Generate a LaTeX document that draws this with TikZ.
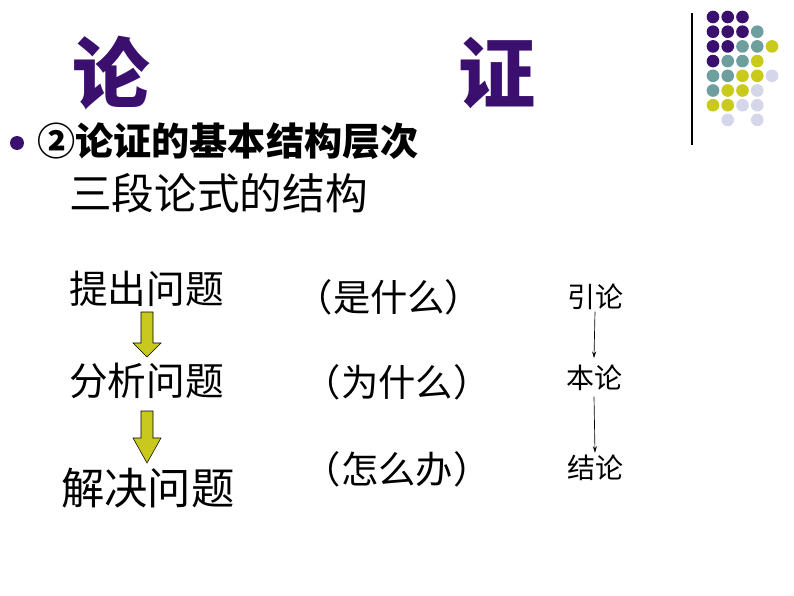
\documentclass[tikz,border=0pt]{standalone}
\usepackage{fontspec}
\newfontfamily\cjk{Noto Sans CJK SC}
\usetikzlibrary{arrows.meta}
\definecolor{dpurple}{HTML}{3A0F6E}
\definecolor{dteal}{HTML}{6E9E9E}
\definecolor{dyellow}{HTML}{CACA1C}
\definecolor{dlav}{HTML}{D6D6EA}
\definecolor{ayellow}{HTML}{C8C81E}
\tikzset{
  txt/.style={inner sep=0pt,font=\cjk},
  bigtxt/.style={txt,font=\cjk\fontsize{32}{32}\selectfont},
  midtxt/.style={txt,font=\cjk\fontsize{29}{29}\selectfont},
  partxt/.style={txt,font=\cjk\fontsize{28}{28}\selectfont},
  smalltxt/.style={txt,font=\cjk\fontsize{21}{21}\selectfont},
  dotp/.style={circle,fill=dpurple,inner sep=0pt,minimum size=9.5pt},
  dott/.style={circle,fill=dteal,inner sep=0pt,minimum size=9.5pt},
  doty/.style={circle,fill=dyellow,inner sep=0pt,minimum size=9.5pt},
  dotl/.style={circle,fill=dlav,inner sep=0pt,minimum size=9.5pt},
  thinarrow/.style={-{Stealth[length=5pt,width=3pt]},line width=0.5pt},
  fatarrow/.style={fill=ayellow,draw=black,line width=0.4pt}
}
\begin{document}
\begin{tikzpicture}[x=0.75pt,y=-0.75pt]
\useasboundingbox (0,0) rectangle (794,596);
% decoration
\draw[line width=0.8pt] (692,13) -- (692,145);
\foreach \c/\r/\s in {1/1/dotp,2/1/dotp,3/1/dotp,
  1/2/dotp,2/2/dotp,3/2/dotp,4/2/dott,
  1/3/dotp,2/3/dotp,3/3/dott,4/3/dott,5/3/doty,
  1/4/dotp,2/4/dott,3/4/dott,4/4/doty,
  1/5/dott,2/5/dott,3/5/doty,4/5/doty,5/5/dotl,
  1/6/dott,2/6/doty,3/6/doty,4/6/dotl,
  1/7/doty,2/7/doty,3/7/dotl,4/7/dotl,
  2/8/dotl,4/8/dotl}
  \node[\s] (d\c\r) at ({713+14.75*(\c-1)},{17+14.7*(\r-1)}) {};
% title
\node[txt,font=\cjk\bfseries\fontsize{58}{58}\selectfont,text=dpurple] (t1) at (111,73) {论};
\node[txt,font=\cjk\bfseries\fontsize{58}{58}\selectfont,text=dpurple] (t2) at (497,73) {证};
% bullet line
\node[circle,fill=dpurple,inner sep=0pt,minimum size=10.5pt] (bul) at (17,143) {};
\node[txt,anchor=west,font=\cjk\bfseries\fontsize{28.6}{28.6}\selectfont] (sub) at (37,141) {②论证的基本结构层次};
\node[bigtxt,anchor=west] (head) at (69,193) {三段论式的结构};
% left column
\node[midtxt,anchor=west] (q1) at (69,289) {提出问题};
\node[midtxt,anchor=west] (q2) at (69,381) {分析问题};
\node[txt,anchor=west,font=\cjk\fontsize{32.5}{32.5}\selectfont] (q3) at (61,488) {解决问题};
% middle column
\node[partxt] (m1) at (389,297) {（是什么）};
\node[partxt] (m2) at (397,382) {（为什么）};
\node[partxt] (m3) at (397,469) {（怎么办）};
% right column
\node[smalltxt] (r1) at (595,297) {引论};
\node[smalltxt] (r2) at (594,378) {本论};
\node[smalltxt] (r3) at (595,468) {结论};
\draw[thinarrow] ([yshift=-1pt]r1.south) -- ([yshift=5pt]r2.north);
\draw[thinarrow] ([yshift=-4pt]r2.south) -- ([yshift=1.5pt]r3.north);
% fat arrows
\draw[fatarrow] (141,312) -- (153,312) -- (153,343) -- (161,343) -- (147,357) -- (133,343) -- (141,343) -- cycle;
\draw[fatarrow] (141,411) -- (153,411) -- (153,438) -- (161,438) -- (147,463) -- (133,438) -- (141,438) -- cycle;
\end{tikzpicture}
\end{document}
